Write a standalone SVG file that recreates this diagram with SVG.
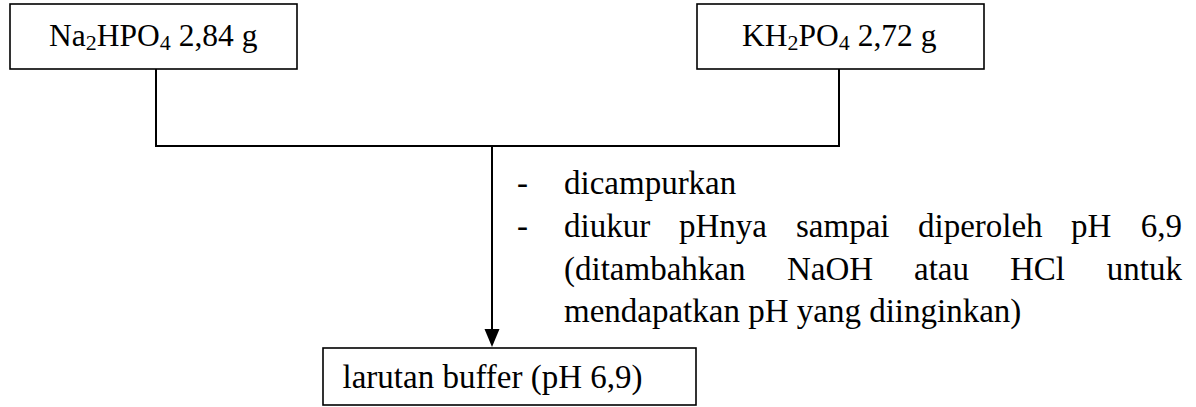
<svg xmlns="http://www.w3.org/2000/svg" width="1196" height="407" viewBox="0 0 1196 407">
  <style>
    .box { fill: #ffffff; stroke: #000000; stroke-width: 1.6; }
    .wire { fill: none; stroke: #000000; stroke-width: 2; }
    .t { font-family: "Liberation Serif", "Times New Roman", serif; font-size: 33px; fill: #000000; }
    .label { font-size: 31.5px; }
    .sub { font-size: 22px; }
  </style>
  <rect width="1196" height="407" fill="#ffffff"/>

  <!-- connectors -->
  <g id="connectors">
    <polyline class="wire" points="156,69 156,146 839,146 839,69"/>
    <line class="wire" x1="492" y1="146" x2="492" y2="330"/>
    <polygon points="484.5,329 499.5,329 492,347" fill="#000000"/>
  </g>

  <!-- source: disodium phosphate -->
  <g id="node-na2hpo4">
    <rect class="box" x="10" y="4" width="287" height="65"/>
    <text class="t label" x="49" y="46">Na<tspan class="sub" dy="4">2</tspan><tspan dy="-4">HPO</tspan><tspan class="sub" dy="4">4</tspan><tspan dy="-4"> 2,84 g</tspan></text>
  </g>

  <!-- source: potassium dihydrogen phosphate -->
  <g id="node-kh2po4">
    <rect class="box" x="697" y="4" width="287" height="65"/>
    <text class="t label" x="742" y="46">KH<tspan class="sub" dy="4">2</tspan><tspan dy="-4">PO</tspan><tspan class="sub" dy="4">4</tspan><tspan dy="-4"> 2,72 g</tspan></text>
  </g>

  <!-- process steps beside the arrow -->
  <g id="steps" class="t">
    <text x="517" y="194">-</text>
    <text x="564" y="194">dicampurkan</text>
    <text x="517" y="237">-</text>
    <text y="237"><tspan x="564">diukur</tspan><tspan x="679">pHnya</tspan><tspan x="796">sampai</tspan><tspan x="918">diperoleh</tspan><tspan x="1071">pH</tspan><tspan x="1182" text-anchor="end">6,9</tspan></text>
    <text y="280"><tspan x="564">(ditambahkan</tspan><tspan x="787">NaOH</tspan><tspan x="914">atau</tspan><tspan x="1010">HCl</tspan><tspan x="1182" text-anchor="end">untuk</tspan></text>
    <text x="564" y="322">mendapatkan pH yang diinginkan)</text>
  </g>

  <!-- result -->
  <g id="node-buffer">
    <rect class="box" x="323" y="348" width="373" height="57"/>
    <text class="t" x="492.5" y="388" text-anchor="middle">larutan buffer (pH 6,9)</text>
  </g>
</svg>
